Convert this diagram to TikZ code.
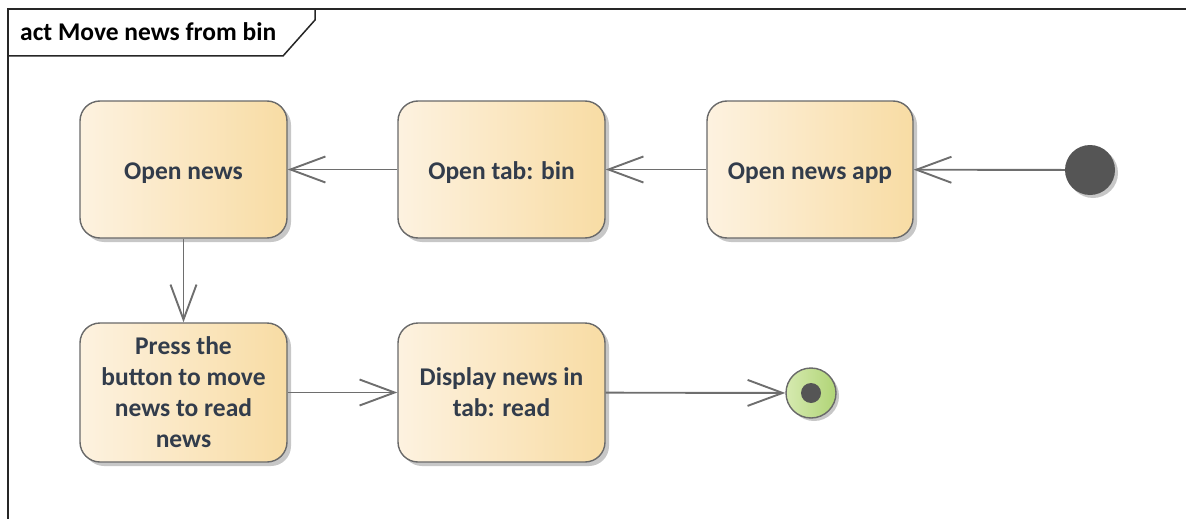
\documentclass[tikz,border=0pt]{standalone}
\usepackage{fontspec}
\setmainfont{Carlito}
\usetikzlibrary{arrows.meta,shadows}
\definecolor{actL}{RGB}{253,242,224}
\definecolor{actR}{RGB}{248,220,164}
\definecolor{txt}{RGB}{50,60,75}
\definecolor{edge}{RGB}{105,105,105}
\definecolor{lnc}{RGB}{110,110,110}
\definecolor{dark}{RGB}{85,85,85}
\definecolor{grL}{RGB}{214,234,176}
\definecolor{grR}{RGB}{176,212,118}
\begin{document}
\begin{tikzpicture}[x=1pt,y=-1pt,
  act/.style={rounded corners=20pt, draw=edge, line width=1.4pt,
    left color=actL, right color=actR, minimum width=207pt, minimum height=137pt,
    align=center, font=\fontsize{25.5}{31}\selectfont\bfseries, text=txt,
    text depth=0pt,
    drop shadow={shadow xshift=4pt, shadow yshift=-4pt, fill=black, opacity=0.22}},
  flow/.style={draw=lnc, line width=1.9pt, -{Straight Barb[length=35pt,width=26pt]}},
  framestyle/.style={draw=black!85, line width=1.5pt}]
\useasboundingbox (0,0) rectangle (1186,519);
% frame
\draw[framestyle] (8,530) -- (8,9) -- (1200,9);
\draw[framestyle] (8,56) -- (283,56) -- (315,20) -- (315,9);
\node[anchor=west, font=\fontsize{25.5}{28}\selectfont\bfseries, text=black, inner sep=0pt] (title) at (20,32) {act Move news from bin};
% actions
\node[act] (news) at (183.5,169.5) {\raisebox{-3pt}{Open news}};
\node[act] (tab) at (501.5,169.5) {\raisebox{-3pt}{Open tab: bin}};
\node[act, minimum width=206pt] (app) at (810,169.5) {\raisebox{-3pt}{Open news app}};
\node[act, minimum height=139pt] (press) at (183.5,392.5) {Press the\\button to move\\news to read\\news};
\node[act, minimum height=139pt] (display) at (501.5,392.5) {Display news in\\tab: read};
% initial / final
\node[circle, fill=dark, minimum size=50pt, inner sep=0pt,
  drop shadow={shadow xshift=3pt, shadow yshift=-3pt, fill=black, opacity=0.22}] (init) at (1090,170) {};
\node[circle, draw=edge, line width=1.4pt, left color=grL, right color=grR, minimum size=50pt, inner sep=0pt,
  drop shadow={shadow xshift=3pt, shadow yshift=-3pt, fill=black, opacity=0.22}] (final) at (811,393) {};
\node[circle, fill=dark, minimum size=20pt, inner sep=0pt] (finaldot) at (final.center) {};
% flows
\draw[flow] (init) -- (app);
\draw[flow] (app) -- (tab);
\draw[flow] (tab) -- (news);
\draw[flow] (news) -- (press);
\draw[flow] (press) -- (display);
\draw[flow] (display) -- (final);
\end{tikzpicture}
\end{document}
